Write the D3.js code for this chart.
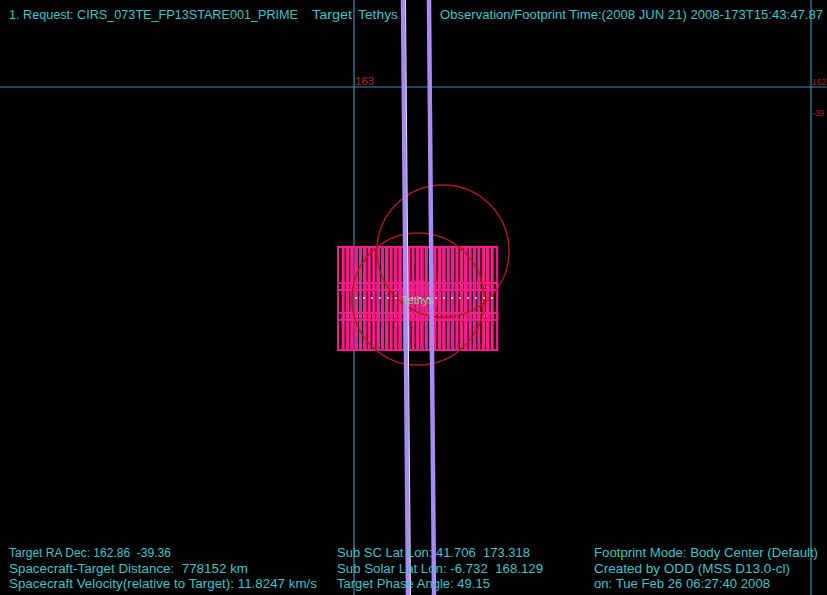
<!DOCTYPE html>
<html><head><meta charset="utf-8">
<script src="https://cdn.jsdelivr.net/npm/d3@7"></script>
<style>html,body{margin:0;padding:0;background:#000;}svg{display:block;}text{white-space:pre;}</style>
</head><body>
<script>
// ---- data ----
const raGrid = [163, 162];
const raGridLabels = ["163", "162"];
const decGrid = [-39];
const decGridLabels = ["-39"];
const target = {name: "Tethys", ra: 162.860, dec: -39.360, radiusDeg: 0.034};
const fovCircles = [ {ra: 162.8053, dec: -39.2775}, {ra: 162.8600, dec: -39.3587} ];
const fovRadiusDeg = 0.1117;
const ringLines = [
  {ra1: 162.8928, dec1: -38.8528, ra2: 162.8818, dec2: -39.8596},
  {ra1: 162.8359, dec1: -38.8528, ra2: 162.8249, dec2: -39.8596}
];
const equator = {ra1: 162.998, ra2: 162.687, dec: -39.357};
const footprintColumnsRA = [163.035, 163.025, 163.016, 163.006, 162.997, 162.987, 162.978, 162.968, 162.958, 162.949,
  162.939, 162.930, 162.920, 162.910, 162.901, 162.891, 162.882, 162.872, 162.862, 162.853,
  162.843, 162.834, 162.824, 162.814, 162.805, 162.795, 162.786, 162.776, 162.766, 162.757,
  162.747, 162.738, 162.728, 162.718, 162.709, 162.699];
const footprintRowsDecTop = [-39.2707, -39.3316, -39.3824];
const footprintRowsHeight = [0.0728, 0.0626, 0.0626];
const footprintWidthDeg = 0.0125;
const topTexts = [
  {t: "1. Request: CIRS_073TE_FP13STARE001_PRIME", x: 9, w: 289},
  {t: "Target", x: 312, w: 40},
  {t: "Tethys", x: 358, w: 40},
  {t: "Observation/Footprint Time:(2008 JUN 21) 2008-173T15:43:47.87", x: 440, w: 383}
];
const bottomCol1 = ["Target RA Dec: 162.86  -39.36", "Spacecraft-Target Distance:  778152 km", "Spacecraft Velocity(relative to Target): 11.8247 km/s"];
const bottomCol1W = [162, 239, 308];
const bottomCol2 = ["Sub SC Lat Lon: 41.706  173.318", "Sub Solar Lat Lon: -6.732  168.129", "Target Phase Angle: 49.15"];
const bottomCol2W = [193, 206, 153];
const bottomCol3 = ["Footprint Mode: Body Center (Default)", "Created by ODD (MSS D13.0-cl)", "on: Tue Feb 26 06:27:40 2008"];
const bottomCol3W = [224, 196, 176];

// ---- drawing ----
const W = 827, H = 595;
const svg = d3.select("body").append("svg").attr("width", W).attr("height", H);
svg.append("rect").attr("width", W).attr("height", H).attr("fill", "#000");

const x = d3.scaleLinear().domain([163, 162]).range([354, 811]);
const y = d3.scaleLinear().domain([-39, -40]).range([87, 678]);
const pxPerDeg = y(-40) - y(-39);

const gridColor = "#3b88ad", textColor = "#3fc3cb", red = "#a81e1c", pink = "#f41f8b";
const font = "Liberation Sans, Arial, sans-serif";

// grid
svg.selectAll(".vg").data(raGrid).join("line")
  .attr("x1", d => x(d)).attr("x2", d => x(d)).attr("y1", 0).attr("y2", H)
  .attr("stroke", gridColor).attr("stroke-width", 1.2);
svg.selectAll(".hg").data(decGrid).join("line")
  .attr("x1", 0).attr("x2", W).attr("y1", d => y(d)).attr("y2", d => y(d))
  .attr("stroke", gridColor).attr("stroke-width", 1.2);
svg.selectAll(".rl").data(raGrid).join("text")
  .attr("x", d => x(d) + 1).attr("y", y(decGrid[0]) - 2)
  .attr("fill", "#b8201e").attr("font-family", font).attr("font-size", (d, i) => i === 1 ? 8.5 : 11.5)
  .text((d, i) => raGridLabels[i]);
svg.selectAll(".dl").data(decGrid).join("text")
  .attr("x", x(raGrid[1]) + 1).attr("y", d => y(d) + 29)
  .attr("fill", "#b8201e").attr("font-family", font).attr("font-size", 8.5)
  .text((d, i) => decGridLabels[i]);

// target body
svg.append("circle").attr("cx", x(target.ra)).attr("cy", y(target.dec)).attr("r", target.radiusDeg * pxPerDeg)
  .attr("fill", "#a83478").attr("opacity", 0.8);

// footprints
const fp = [];
footprintRowsDecTop.forEach((dt, ri) => footprintColumnsRA.forEach(ra => fp.push({ra, dt, h: footprintRowsHeight[ri]})));
svg.append("g").selectAll("rect").data(fp).join("rect")
  .attr("x", d => x(d.ra)).attr("y", d => y(d.dt))
  .attr("width", d => x(d.ra - footprintWidthDeg) - x(d.ra))
  .attr("height", d => y(d.dt - d.h) - y(d.dt))
  .attr("fill", "none").attr("stroke", pink).attr("stroke-width", 2);
// outer border
svg.append("rect")
  .attr("x", x(footprintColumnsRA[0])).attr("y", y(footprintRowsDecTop[0]))
  .attr("width", x(footprintColumnsRA[footprintColumnsRA.length - 1] - footprintWidthDeg) - x(footprintColumnsRA[0]))
  .attr("height", y(footprintRowsDecTop[2] - footprintRowsHeight[2]) - y(footprintRowsDecTop[0]))
  .attr("fill", "none").attr("stroke", pink).attr("stroke-width", 1.5);

// FOV circles
svg.selectAll(".fov").data(fovCircles).join("circle")
  .attr("cx", d => x(d.ra)).attr("cy", d => y(d.dec)).attr("r", fovRadiusDeg * pxPerDeg)
  .attr("fill", "none").attr("stroke", red).attr("stroke-width", 1.4);

// equator dotted
svg.append("line").attr("x1", x(equator.ra1)).attr("x2", x(equator.ra2))
  .attr("y1", y(equator.dec)).attr("y2", y(equator.dec))
  .attr("stroke", "#fff").attr("stroke-width", 1.6).attr("stroke-dasharray", "2,6");

// ring lines (purple)
svg.selectAll(".ring").data(ringLines).join("line")
  .attr("x1", d => x(d.ra1)).attr("y1", d => y(d.dec1)).attr("x2", d => x(d.ra2)).attr("y2", d => y(d.dec2))
  .attr("stroke", "#a98af2").attr("stroke-width", 4.5);
svg.selectAll(".ringw").data(ringLines.slice(0, 1)).join("line")
  .attr("x1", d => x(d.ra1) + 2.5).attr("y1", d => y(d.dec1)).attr("x2", d => x(d.ra2) + 2.5).attr("y2", d => y(d.dec2))
  .attr("stroke", "#e8e0ff").attr("stroke-width", 1);

// target label
svg.append("text").attr("x", x(target.ra)).attr("y", y(target.dec) + 4)
  .attr("text-anchor", "middle").attr("fill", "#8fd68a")
  .attr("font-family", font).attr("font-size", 11).text(target.name);

// texts
svg.selectAll(".tt").data(topTexts).join("text")
  .attr("x", d => d.x).attr("y", 18.5).attr("fill", textColor)
  .attr("font-family", font).attr("font-size", 12)
  .attr("textLength", d => d.w).attr("lengthAdjust", "spacingAndGlyphs").text(d => d.t);
const baselines = [557, 572.5, 588];
[[bottomCol1, bottomCol1W, 9], [bottomCol2, bottomCol2W, 337], [bottomCol3, bottomCol3W, 594]].forEach(([arr, ws, x0]) => {
  svg.append("g").selectAll("text").data(arr).join("text")
    .attr("x", x0).attr("y", (d, i) => baselines[i]).attr("fill", textColor)
    .attr("font-family", font).attr("font-size", 12)
    .attr("textLength", (d, i) => ws[i]).attr("lengthAdjust", "spacingAndGlyphs").text(d => d);
});
</script>
</body></html>
